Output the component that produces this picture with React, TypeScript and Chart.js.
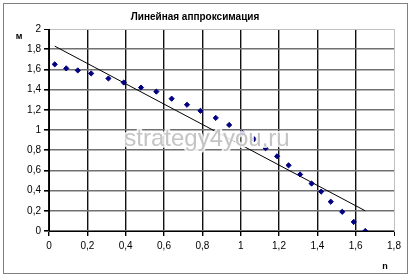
import React, { useEffect, useRef } from "react";
import { Chart, registerables } from "chart.js";

Chart.register(...registerables);

const titleText = "Линейная аппроксимация";
const yAxisLabel = "м";
const xAxisLabel = "n";
const watermarkText = "strategy4you.ru";

const xValues = [0.03, 0.09, 0.15, 0.22, 0.31, 0.39, 0.48, 0.56, 0.64, 0.72, 0.79, 0.87, 0.94, 1.01, 1.07, 1.13, 1.19, 1.25, 1.31, 1.37, 1.42, 1.47, 1.53, 1.59, 1.65];
const yValues = [1.65, 1.61, 1.59, 1.56, 1.51, 1.47, 1.42, 1.38, 1.31, 1.25, 1.19, 1.12, 1.05, 0.97, 0.91, 0.82, 0.74, 0.65, 0.56, 0.47, 0.39, 0.29, 0.19, 0.09, 0.0];

const trendX = [0.03, 1.65];
const trendY = [1.83, 0.2];

const xMin = 0, xMax = 1.8, xStep = 0.2;
const yMin = 0, yMax = 2, yStep = 0.2;

const FONT = "'Liberation Sans', Arial, sans-serif";

function fmt(v: number): string {
  return String(Number(v.toFixed(1))).replace(".", ",");
}

const decor = {
  id: "decor",
  beforeDraw(chart: any) {
    const ctx = chart.ctx;
    ctx.save();
    ctx.fillStyle = "#ffffff";
    ctx.fillRect(0, 0, chart.width, chart.height);
    ctx.strokeStyle = "#808080";
    ctx.lineWidth = 1;
    ctx.strokeRect(3.5, 3.5, 404, 270);
    ctx.restore();
  },
  afterDraw(chart: any) {
    const ctx = chart.ctx;
    ctx.save();
    ctx.fillStyle = "#000";
    ctx.font = `bold 10px ${FONT}`;
    ctx.textAlign = "center";
    ctx.textBaseline = "middle";
    ctx.fillText(titleText, 195, 17);
    ctx.font = `bold 9px ${FONT}`;
    ctx.fillText(yAxisLabel, 19, 37);
    ctx.fillText(xAxisLabel, 385, 267);
    // watermark
    ctx.font = `24px ${FONT}`;
    ctx.lineJoin = "round";
    ctx.strokeStyle = "rgba(255,255,255,0.85)";
    ctx.lineWidth = 4;
    ctx.strokeText(watermarkText, 207, 139);
    ctx.fillStyle = "rgba(190,190,190,0.9)";
    ctx.fillText(watermarkText, 207, 139);
    ctx.restore();
  },
};

export default function App() {
  const ref = useRef<HTMLCanvasElement>(null);
  useEffect(() => {
    if (!ref.current) return;
    const chart = new Chart(ref.current, {
      type: "scatter",
      data: {
        datasets: [
          {
            label: "data",
            data: xValues.map((x, i) => ({ x, y: yValues[i] })),
            pointStyle: "rectRot",
            pointRadius: 2.6,
            backgroundColor: "#000080",
            borderColor: "#000080",
            borderWidth: 1,
            showLine: false,
            order: 1,
          },
          {
            label: "trend",
            data: trendX.map((x, i) => ({ x, y: trendY[i] })),
            showLine: true,
            borderColor: "#000",
            borderWidth: 1,
            pointRadius: 0,
            fill: false,
            order: 2,
          },
        ],
      },
      options: {
        animation: false,
        responsive: false,
        events: [],
        layout: { padding: { top: 29, right: 20, bottom: 0, left: 0 } },
        plugins: {
          legend: { display: false },
          tooltip: { enabled: false },
          title: { display: false },
        },
        scales: {
          x: {
            type: "linear",
            min: xMin,
            max: xMax,
            afterFit: (s: any) => { s.height = 47; },
            ticks: {
              stepSize: xStep,
              callback: (v: any) => fmt(Number(v)),
              color: "#000",
              font: { family: FONT, size: 10 },
              padding: 4,
              maxRotation: 0,
            },
            grid: {
              color: (c: any) => (c.tick && Math.abs(c.tick.value - xMax) < 1e-6 ? "#c0c0c0" : "#111"),
              tickColor: "#000",
              tickLength: 5,
              lineWidth: (c: any) => (c.tick && Math.abs(c.tick.value - xMax) < 1e-6 ? 1 : 1.4),
            },
            border: { display: true, color: "#000", width: 1, z: 1 },
          },
          y: {
            type: "linear",
            min: yMin,
            max: yMax,
            afterFit: (s: any) => { s.width = 49; },
            ticks: {
              stepSize: yStep,
              callback: (v: any) => fmt(Number(v)),
              color: "#000",
              font: { family: FONT, size: 10 },
              padding: 3,
            },
            grid: {
              color: (c: any) => (c.tick && Math.abs(c.tick.value - yMax) < 1e-6 ? "#c0c0c0" : "#707070"),
              tickColor: "#000",
              tickLength: 5,
              lineWidth: (c: any) => (c.tick && Math.abs(c.tick.value - yMax) < 1e-6 ? 1 : 1.6),
            },
            border: { display: true, color: "#000", width: 1, z: 1 },
          },
        },
      },
      plugins: [decor],
    });
    return () => chart.destroy();
  }, []);
  return (
    <div style={{ position: "fixed", left: 0, top: 0, width: 414, height: 278 }}>
      <canvas ref={ref} width={414} height={278} />
    </div>
  );
}
